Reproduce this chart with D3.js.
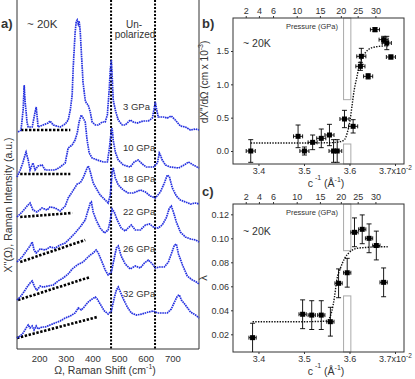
<!DOCTYPE html>
<html>
<head>
<meta charset="utf-8">
<script src="https://cdn.jsdelivr.net/npm/d3@7"></script>
<style>
body { margin: 0; background: #fff; }
text { font-family: "Liberation Sans", Arial, sans-serif; fill: #333; }
</style>
</head>
<body>
<div id="fig"></div>
<script>
'use strict'
var width = 415;
var height = 379;

// ---- panel a : Raman spectra, [shift cm-1, intensity a.u. (offset included)]
var pressures = [3, 10, 18, 22, 26, 32];
var spec3 = [[121,217],[132,219],[140,239],[144,264],[147,249],[155,226],[159,222],[174,222],[185,237],[189,242],[192,234],[196,222],[215,224],[234,226],[241,228],[253,224],[279,222],[298,225],[309,229],[317,239],[324,254],[328,282],[335,316],[339,327],[343,329],[347,325],[350,328],[354,319],[358,299],[365,266],[373,249],[377,246],[384,244],[392,237],[399,227],[411,224],[422,224],[437,227],[448,227],[456,234],[463,259],[467,279],[471,289],[474,274],[478,249],[486,239],[497,229],[512,224],[523,224],[542,229],[553,227],[568,226],[591,228],[610,228],[625,231],[632,241],[636,247],[640,241],[647,232],[666,232],[681,231],[696,233],[711,229],[730,223],[749,222],[768,219],[787,220],[800,219]];
var spec10 = [[117,172],[129,179],[140,187],[147,194],[151,197],[159,189],[166,179],[177,186],[185,179],[196,183],[211,184],[223,179],[241,179],[260,179],[279,182],[298,186],[309,201],[324,204],[335,209],[343,216],[350,227],[358,234],[365,231],[373,227],[380,209],[388,196],[399,191],[418,189],[441,187],[456,187],[463,199],[471,219],[474,221],[478,209],[486,197],[497,189],[516,184],[542,182],[557,187],[572,189],[587,185],[602,182],[629,182],[644,186],[651,196],[655,194],[662,189],[674,184],[692,182],[723,181],[745,184],[760,187],[779,184],[800,181]];
var spec18 = [[117,132],[136,137],[155,143],[166,146],[177,139],[192,137],[211,141],[230,139],[241,142],[260,141],[279,138],[298,143],[309,151],[324,157],[343,165],[354,166],[365,171],[377,179],[384,183],[388,181],[396,173],[403,166],[418,159],[429,154],[448,149],[459,146],[467,154],[474,177],[478,181],[486,171],[497,164],[516,159],[534,156],[553,156],[580,159],[599,157],[617,153],[636,151],[655,157],[670,166],[681,174],[689,172],[700,161],[715,153],[730,149],[749,147],[768,145],[787,146],[800,145]];
var spec22 = [[117,87],[136,92],[155,99],[166,103],[174,107],[181,99],[189,96],[204,100],[223,99],[241,102],[260,101],[279,104],[298,106],[317,111],[335,116],[354,122],[373,129],[384,139],[392,146],[396,147],[403,137],[414,129],[429,121],[445,116],[459,119],[467,129],[474,140],[482,137],[493,129],[508,121],[523,118],[534,121],[546,124],[561,119],[580,119],[599,124],[614,125],[629,122],[647,121],[662,124],[677,131],[689,141],[696,143],[704,137],[715,127],[730,117],[749,112],[768,110],[787,109],[800,107]];
var spec26 = [[117,49],[129,52],[140,56],[155,62],[166,66],[174,68],[185,61],[192,59],[204,63],[215,62],[234,63],[253,64],[271,68],[290,71],[309,75],[324,80],[343,84],[365,87],[380,91],[392,94],[403,96],[414,99],[422,96],[433,89],[448,79],[459,74],[471,77],[482,91],[490,101],[497,103],[508,93],[523,85],[542,80],[561,83],[580,81],[595,86],[610,89],[625,85],[636,81],[651,82],[670,82],[685,87],[696,95],[708,104],[715,105],[723,95],[738,84],[756,73],[775,69],[790,67],[800,65]];
var spec32 = [[117,11],[129,13],[140,16],[151,21],[159,24],[166,21],[174,23],[181,19],[189,23],[196,20],[211,22],[223,22],[241,24],[260,26],[279,28],[298,31],[317,33],[335,36],[347,41],[358,39],[369,42],[384,47],[399,50],[411,52],[418,50],[429,45],[445,38],[459,35],[471,38],[482,51],[490,59],[497,62],[505,57],[516,50],[531,42],[546,36],[565,34],[587,35],[610,37],[629,38],[644,36],[662,36],[681,36],[696,40],[708,47],[719,53],[726,54],[734,49],[749,44],[768,37],[787,34],[800,31]];
var spectra = [spec3, spec10, spec18, spec22, spec26, spec32];
// black dotted background lines under each spectrum
var baselines = [[[132,219],[317,219]], [[129,175],[317,175]], [[129,132],[324,136]],
                 [[129,87],[373,109]], [[121,49],[392,72]], [[117,11],[418,32]]];
var guideShifts = [470, 635];
var shiftTicks = [200, 300, 400, 500, 600, 700];

// ---- panels b and c : versus inverse c axis (x10^-2 1/A)
var pressureTicks = [2, 4, 6, 10, 15, 20, 25, 30];
var pressureTickC = [3.372, 3.401, 3.432, 3.484, 3.535, 3.581, 3.618, 3.657];
var band = [3.587, 3.603];

var bC = [3.383, 3.487, 3.501, 3.519, 3.538, 3.556, 3.565, 3.573, 3.589, 3.608, 3.624, 3.626, 3.641, 3.656, 3.675, 3.682, 3.691];
var bVal = [0.00, 0.22, 0.00, 0.13, 0.19, 0.24, 0.00, 0.00, 0.48, 0.37, 1.27, 1.42, 1.12, 1.82, 1.67, 1.62, 1.41];
var bErr = [0.17, 0.17, 0.06, 0.11, 0.14, 0.16, 0.17, 0.17, 0.13, 0.10, 0.06, 0.12, 0.04, 0.03, 0.05, 0.10, 0.03];
var bFitC = [3.383, 3.50, 3.56, 3.580, 3.589, 3.595, 3.601, 3.606, 3.610, 3.616, 3.622, 3.630, 3.641, 3.656, 3.686];
var bFitY = [0.12, 0.12, 0.125, 0.14, 0.17, 0.27, 0.45, 0.70, 0.90, 1.10, 1.30, 1.42, 1.52, 1.56, 1.58];
var bBandGap = [0.105, 0.77];

var cC = [3.387, 3.497, 3.517, 3.538, 3.558, 3.576, 3.595, 3.611, 3.628, 3.643, 3.659, 3.675];
var cVal = [0.0172, 0.0367, 0.036, 0.036, 0.0305, 0.0625, 0.0713, 0.105, 0.1075, 0.100, 0.094, 0.0633];
var cErr = [0.012, 0.012, 0.012, 0.012, 0.012, 0.012, 0.012, 0.012, 0.012, 0.012, 0.012, 0.012];
var cFitC = [3.387, 3.50, 3.550, 3.561, 3.567, 3.572, 3.580, 3.589, 3.602, 3.617, 3.641, 3.661, 3.684];
var cFitY = [0.0305, 0.0305, 0.031, 0.039, 0.051, 0.065, 0.075, 0.083, 0.089, 0.0917, 0.0925, 0.093, 0.093];
var cBandGap = [0.052, 0.0897];

var svg = d3.select('#fig').append('svg')
	.attr('width', width)
	.attr('height', height);

// ================= panel a
var ax = d3.scaleLinear().domain([117, 800]).range([17, 199]);
var ay = d3.scaleLinear().domain([0, 349]).range([349, 0]);
var ga = svg.append('g');

ga.append('path')
	.attr('d', 'M17,-1V349H199V-1')
	.attr('fill', 'none').attr('stroke', '#333').attr('stroke-width', 1);

var line = d3.line().x(function(d){ return ax(d[0]); }).y(function(d){ return ay(d[1]); });

ga.selectAll('.base').data(baselines).enter().append('path')
	.attr('d', line)
	.attr('fill', 'none').attr('stroke', '#000')
	.attr('stroke-width', 2.6).attr('stroke-dasharray', '2.4,1.6');

ga.selectAll('.guide').data(guideShifts).enter().append('line')
	.attr('x1', function(d){ return ax(d); }).attr('x2', function(d){ return ax(d); })
	.attr('y1', 0).attr('y2', 349)
	.attr('stroke', '#000').attr('stroke-width', 2).attr('stroke-dasharray', '2,1.5');

ga.selectAll('.spec').data(spectra).enter().append('path')
	.attr('d', line)
	.attr('fill', 'none').attr('stroke', '#2430e0')
	.attr('stroke-width', 1.7).attr('stroke-dasharray', '1.6,0.7');

var labelY = [110, 151, 182, 215, 252, 297];
ga.selectAll('.plab').data(pressures).enter().append('text')
	.attr('x', 123).attr('y', function(d, i){ return labelY[i]; })
	.style('font-size', '9.5px')
	.text(function(d){ return d + ' GPa'; });

var axisA = ga.append('g').attr('transform', 'translate(0,349)')
	.call(d3.axisBottom(ax).tickValues(shiftTicks).tickSize(0).tickPadding(6));
axisA.select('.domain').remove();
axisA.selectAll('text').style('font-size', '9.5px').style('font-family', '"Liberation Sans", Arial, sans-serif').attr('fill', '#333');

var xla = ga.append('text').attr('x', 105).attr('y', 374).attr('text-anchor', 'middle').style('font-size', '10.5px');
xla.append('tspan').text('Ω, Raman Shift (cm');
xla.append('tspan').attr('dy', -5).style('font-size', '7px').text('-1');
xla.append('tspan').attr('dy', 5).text(')');

ga.append('text').attr('transform', 'translate(12,205) rotate(-90)')
	.attr('text-anchor', 'middle').style('font-size', '10.5px')
	.text("X''(Ω), Raman Intensity (a.u.)");

ga.append('text').attr('x', 1).attr('y', 28).style('font-size', '13px').style('font-weight', 'bold').attr('fill', '#000').text('a)');
ga.append('text').attr('x', 27).attr('y', 28).style('font-size', '11.5px').text('~ 20K');
ga.append('text').attr('x', 134).attr('y', 28).attr('text-anchor', 'middle').style('font-size', '10px').text('Un-');
ga.append('text').attr('x', 135).attr('y', 38).attr('text-anchor', 'middle').style('font-size', '10px').text('polarized');

// ================= panels b and c
var px = d3.scaleLinear().domain([3.344, 3.7198]).range([233, 404]);

function drawPanel(opt) {
	var g = svg.append('g');
	var y = opt.y;
	var top = y.range()[1], bottom = y.range()[0];

	// transition band
	g.append('rect')
		.attr('x', px(band[0])).attr('width', px(band[1]) - px(band[0]))
		.attr('y', top).attr('height', y(opt.gap[1]) - top)
		.attr('fill', '#fff').attr('stroke', '#aaa');
	g.append('rect')
		.attr('x', px(band[0])).attr('width', px(band[1]) - px(band[0]))
		.attr('y', y(opt.gap[0])).attr('height', bottom - y(opt.gap[0]))
		.attr('fill', '#fff').attr('stroke', '#aaa');

	g.append('rect').attr('x', 233).attr('y', top).attr('width', 171).attr('height', bottom - top)
		.attr('fill', 'none').attr('stroke', '#333');

	var fitLine = d3.line().curve(d3.curveMonotoneX)
		.x(function(d){ return px(d[0]); }).y(function(d){ return y(d[1]); });
	g.append('path').datum(d3.zip(opt.fitC, opt.fitY))
		.attr('d', fitLine)
		.attr('fill', 'none').attr('stroke', '#111')
		.attr('stroke-width', 1.4).attr('stroke-dasharray', '1.4,1.3');

	var pts = opt.cs.map(function(c, i){ return {c: c, v: opt.vals[i], e: opt.errs[i]}; });
	var pg = g.selectAll('.pt').data(pts).enter().append('g');
	// vertical error bars with caps
	pg.append('path')
		.attr('d', function(d){
			var x = px(d.c), y1 = Math.min(y(d.v - d.e), bottom), y2 = y(d.v + d.e);
			return 'M' + x + ',' + y1 + 'V' + y2 + 'M' + (x - 2.5) + ',' + y2 + 'H' + (x + 2.5) +
				(y(d.v - d.e) < bottom ? 'M' + (x - 2.5) + ',' + y1 + 'H' + (x + 2.5) : '');
		})
		.attr('fill', 'none').attr('stroke', '#000').attr('stroke-width', 0.9);
	// horizontal error bars
	pg.append('path')
		.attr('d', function(d){
			var yy = y(d.v), x1 = px(d.c - opt.xErr), x2 = px(d.c + opt.xErr);
			return 'M' + x1 + ',' + yy + 'H' + x2 + 'M' + x1 + ',' + (yy - 2) + 'V' + (yy + 2) +
				'M' + x2 + ',' + (yy - 2) + 'V' + (yy + 2);
		})
		.attr('fill', 'none').attr('stroke', '#000').attr('stroke-width', 0.9);
	pg.append('rect')
		.attr('x', function(d){ return px(d.c) - 2.5; })
		.attr('y', function(d){ return y(d.v) - 2.5; })
		.attr('width', 5).attr('height', 5).attr('fill', '#000');

	// axes
	var xb = g.append('g').attr('transform', 'translate(0,' + bottom + ')')
		.call(d3.axisBottom(px).tickValues([3.4, 3.5, 3.6, 3.7]).tickSize(2).tickPadding(2)
			.tickFormat(d3.format('.1f')));
	var last = xb.selectAll('.tick text').filter(function(d){ return d === 3.7; });
	last.text('3.7x10');
	last.append('tspan').attr('dy', '-0.6em').style('font-size', '6.5px').text('-2');

	var yb = g.append('g').attr('transform', 'translate(233,0)')
		.call(d3.axisLeft(y).tickValues(opt.yTicks).tickSize(2).tickPadding(2)
			.tickFormat(d3.format(opt.yFmt)));

	var tb = g.append('g').attr('transform', 'translate(0,' + top + ')')
		.call(d3.axisTop(px).tickValues(pressureTickC).tickSize(2).tickPadding(2)
			.tickFormat(function(d, i){ return pressureTicks[i]; }));

	[xb, yb, tb].forEach(function(a){
		a.select('.domain').remove();
		a.selectAll('line').attr('stroke', '#333');
		a.selectAll('text').style('font-size', '9px').attr('fill', '#333')
			.style('font-family', '"Liberation Sans", Arial, sans-serif');
	});

	var xl = g.append('text').attr('x', 326).attr('y', bottom + 23).attr('text-anchor', 'middle')
		.style('font-size', '10.5px');
	xl.append('tspan').text('c');
	xl.append('tspan').attr('dy', -7).style('font-size', '7px').text(' -1');
	xl.append('tspan').attr('dy', 7).text(' (Å');
	xl.append('tspan').attr('dy', -5).style('font-size', '7px').text('-1');
	xl.append('tspan').attr('dy', 5).text(')');

	g.append('text').attr('x', 202).attr('y', opt.letterY).style('font-size', '13px')
		.style('font-weight', 'bold').attr('fill', '#000').text(opt.letter);
	g.append('text').attr('x', 243).attr('y', opt.kY).style('font-size', '10.5px').text('~ 20K');
	g.append('text').attr('x', 338).attr('y', top + 11).attr('text-anchor', 'end')
		.style('font-size', '7.5px').text('Pressure (GPa)');

	return g;
}

var by = d3.scaleLinear().domain([-0.195, 1.995]).range([164, 18]);
var gb = drawPanel({y: by, gap: bBandGap, fitC: bFitC, fitY: bFitY, cs: bC, vals: bVal, errs: bErr,
	xErr: 0.01, yTicks: [0, 0.5, 1.0, 1.5], yFmt: '.1f', letter: 'b)', letterY: 28, kY: 47});
var ylb = gb.append('text').attr('transform', 'translate(208,82) rotate(-90)')
	.attr('text-anchor', 'middle').style('font-size', '10px');
ylb.append('tspan').text("dX''/dΩ (cm x 10");
ylb.append('tspan').attr('dy', -5).style('font-size', '7px').text('-3');
ylb.append('tspan').attr('dy', 5).text(')');

var cy = d3.scaleLinear().domain([0.00525, 0.1286]).range([352, 204]);
var gc = drawPanel({y: cy, gap: cBandGap, fitC: cFitC, fitY: cFitY, cs: cC, vals: cVal, errs: cErr,
	xErr: 0.008, yTicks: [0.02, 0.04, 0.06, 0.08, 0.10, 0.12], yFmt: '.2f', letter: 'c)', letterY: 196, kY: 235});
gc.append('text').attr('transform', 'translate(207,278) rotate(-90)')
	.attr('text-anchor', 'middle').style('font-size', '11px').text('λ');
</script>
</body>
</html>
